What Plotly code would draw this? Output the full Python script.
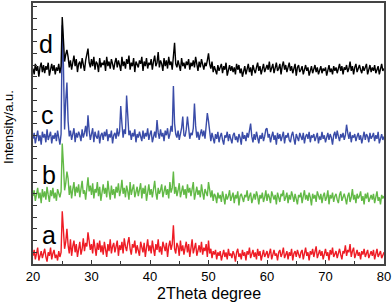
import numpy as np
import plotly.graph_objects as go

# 2-theta scan grid (deg), 0.2 deg step
two_theta = np.round(np.arange(20.0, 80.0001, 0.2), 1)

labels = ["a", "b", "c", "d"]
colors = ["#ee1c25", "#62b946", "#3a4ca8", "#000000"]
offsets = [1, 49, 100, 159]

int_a = [
    6, 11, 3, 8, 13, 2, 7, 10, 4, 9,
    12, 5, 1, 9, 6, 13, 3, 8, 11, 4,
    7, 2, 10, 5, 9, 44, 30, 12, 18, 29,
    15, 8, 20, 6, 14, 19, 9, 16, 5, 13,
    18, 7, 12, 21, 10, 17, 14, 26, 19, 11,
    16, 8, 20, 13, 6, 17, 11, 19, 9, 15,
    7, 18, 12, 5, 16, 10, 20, 8, 14, 17,
    9, 13, 19, 6, 15, 11, 18, 8, 21, 14,
    10, 17, 22, 12, 7, 16, 13, 19, 8, 15,
    11, 6, 18, 14, 9, 17, 5, 13, 20, 10,
    15, 8, 19, 12, 6, 16, 11, 20, 9, 14,
    7, 18, 13, 10, 17, 5, 14, 19, 11, 16,
    32, 12, 8, 17, 14, 6, 19, 10, 15, 7,
    13, 18, 9, 16, 5, 12, 20, 8, 14, 17,
    6, 11, 15, 9, 18, 7, 13, 10, 16, 5,
    19, 8, 12, 4, 10, 7, 11, 3, 9, 6,
    10, 2, 8, 11, 5, 9, 3, 12, 6, 8,
    4, 10, 7, 1, 9, 12, 5, 8, 3, 11,
    6, 9, 2, 10, 7, 13, 4, 8, 11, 5,
    9, 3, 12, 6, 10, 2, 8, 11, 5, 7,
    10, 4, 9, 12, 3, 7, 11, 6, 8, 2,
    9, 11, 5, 8, 13, 4, 7, 10, 3, 9,
    6, 12, 2, 8, 10, 5, 11, 7, 4, 9,
    11, 3, 8, 13, 6, 9, 2, 10, 7, 12,
    5, 9, 14, 4, 8, 11, 6, 10, 3, 8,
    12, 6, 9, 2, 11, 7, 13, 5, 8, 10,
    4, 9, 12, 7, 3, 10, 8, 15, 6, 11,
    9, 16, 5, 10, 13, 4, 8, 11, 6, 9,
    3, 10, 7, 12, 5, 9, 11, 4, 8, 10,
    6, 11, 3, 9, 12, 5, 8, 10, 4, 7,
    9,
]

int_b = [
    9, 14, 5, 11, 16, 7, 12, 3, 15, 8,
    13, 6, 17, 10, 4, 14, 9, 16, 7, 12,
    5, 15, 10, 8, 13, 54, 36, 14, 20, 30,
    24, 10, 18, 7, 15, 21, 9, 17, 12, 19,
    8, 16, 22, 11, 14, 6, 19, 25, 13, 18,
    10, 20, 7, 15, 12, 21, 9, 17, 5, 14,
    19, 11, 16, 8, 22, 13, 6, 18, 10, 15,
    7, 17, 12, 20, 9, 14, 23, 11, 16, 8,
    18, 13, 6, 21, 10, 15, 19, 8, 12, 17,
    9, 14, 20, 7, 16, 11, 18, 5, 13, 19,
    10, 15, 8, 17, 22, 12, 6, 16, 11, 14,
    19, 8, 13, 18, 10, 15, 7, 21, 12, 16,
    30, 11, 17, 9, 14, 20, 8, 13, 18, 10,
    15, 7, 19, 12, 16, 9, 14, 21, 6, 13,
    17, 10, 14, 8, 19, 12, 6, 15, 11, 9,
    21, 13, 8, 14, 5, 11, 9, 3, 12, 7,
    10, 4, 13, 8, 2, 11, 6, 9, 14, 5,
    8, 12, 3, 10, 7, 13, 1, 9, 11, 6,
    4, 10, 8, 14, 5, 9, 12, 3, 7, 11,
    6, 13, 9, 2, 10, 7, 12, 4, 8, 14,
    5, 11, 8, 3, 13, 9, 6, 10, 2, 12,
    7, 4, 11, 9, 14, 5, 8, 12, 3, 10,
    6, 13, 9, 4, 11, 7, 2, 10, 8, 12,
    3, 9, 14, 6, 10, 5, 12, 8, 1, 11,
    7, 10, 4, 13, 8, 6, 11, 3, 9, 12,
    5, 8, 14, 2, 10, 7, 12, 4, 9, 11,
    6, 3, 10, 13, 5, 8, 11, 7, 2, 9,
    12, 4, 8, 15, 6, 10, 3, 11, 7, 9,
    13, 5, 9, 2, 11, 7, 12, 4, 8, 10,
    6, 11, 3, 9, 13, 5, 8, 2, 10, 7,
    9,
]

int_c = [
    7, 12, 3, 9, 14, 5, 10, 2, 13, 8,
    11, 4, 15, 6, 9, 13, 3, 10, 7, 12,
    5, 14, 8, 2, 11, 104, 70, 15, 40, 55,
    22, 9, 14, 6, 11, 16, 4, 12, 8, 13,
    10, 5, 15, 8, 12, 18, 9, 27, 14, 6,
    11, 16, 4, 13, 9, 7, 14, 3, 10, 12,
    6, 13, 9, 15, 5, 11, 8, 14, 3, 10,
    12, 7, 16, 9, 13, 35, 20, 8, 15, 11,
    44, 24, 10, 14, 6, 12, 9, 15, 4, 11,
    8, 13, 10, 5, 14, 7, 12, 9, 16, 6,
    11, 14, 4, 10, 13, 8, 23, 12, 7, 15,
    9, 12, 5, 14, 10, 16, 7, 11, 18, 13,
    52, 20, 11, 8, 14, 6, 12, 16, 26, 10,
    9, 15, 26, 13, 7, 12, 10, 16, 37, 18,
    8, 13, 6, 11, 15, 9, 14, 7, 18, 29,
    22, 10, 5, 12, 8, 3, 11, 7, 13, 4,
    9, 12, 6, 2, 10, 8, 13, 5, 11, 7,
    3, 10, 12, 6, 9, 4, 11, 8, 2, 13,
    7, 10, 5, 12, 8, 14, 20, 9, 4, 11,
    6, 13, 8, 3, 10, 7, 12, 5, 9, 15,
    16, 8, 11, 4, 9, 13, 6, 10, 2, 12,
    7, 11, 5, 9, 13, 3, 10, 8, 12, 6,
    4, 10, 13, 7, 2, 11, 8, 5, 12, 9,
    6, 12, 3, 9, 11, 7, 13, 4, 10, 8,
    11, 5, 8, 12, 3, 9, 6, 13, 7, 10,
    4, 9, 12, 6, 11, 8, 2, 10, 13, 7,
    14, 9, 5, 11, 8, 12, 6, 10, 19, 12,
    7, 13, 4, 10, 8, 11, 5, 9, 12, 6,
    10, 3, 8, 13, 6, 11, 9, 4, 12, 7,
    9, 12, 5, 10, 7, 13, 3, 8, 11, 6,
    9,
]

int_d = [
    8, 3, 12, 6, 10, 1, 9, 13, 5, 11,
    4, 10, 7, 13, 2, 9, 12, 6, 11, 3,
    9, 6, 12, 4, 10, 52, 34, 14, 20, 24,
    18, 9, 15, 7, 13, 19, 10, 16, 5, 12,
    14, 8, 17, 11, 6, 15, 19, 25, 13, 9,
    16, 10, 18, 7, 14, 12, 5, 17, 9, 13,
    11, 15, 6, 18, 10, 14, 8, 16, 12, 7,
    13, 17, 9, 15, 11, 6, 18, 10, 14, 8,
    16, 12, 19, 7, 13, 10, 17, 5, 14, 11,
    9, 15, 12, 18, 6, 14, 10, 17, 8, 13,
    11, 16, 7, 14, 19, 10, 13, 22, 9, 15,
    12, 6, 17, 10, 15, 8, 18, 11, 14, 7,
    16, 30, 12, 9, 15, 11, 6, 17, 10, 13,
    8, 14, 11, 16, 7, 13, 10, 15, 9, 18,
    12, 6, 14, 9, 16, 11, 7, 13, 10, 15,
    21, 12, 8, 14, 5, 10, 7, 3, 11, 6,
    9, 12, 4, 10, 7, 13, 2, 8, 11, 6,
    10, 5, 9, 3, 12, 7, 11, 4, 8, 1,
    6, 10, 3, 8, 12, 5, 9, 2, 11, 7,
    4, 9, 13, 6, 10, 3, 8, 12, 5, 9,
    11, 7, 14, 5, 9, 12, 4, 10, 13, 6,
    8, 12, 3, 10, 14, 7, 11, 5, 9, 13,
    6, 10, 4, 8, 12, 2, 9, 11, 5, 7,
    10, 3, 8, 11, 6, 9, 2, 7, 10, 4,
    8, 11, 5, 9, 3, 7, 10, 4, 8, 6,
    9, 2, 7, 11, 5, 8, 3, 10, 6, 9,
    4, 8, 12, 6, 10, 3, 9, 7, 11, 5,
    8, 14, 6, 10, 3, 9, 12, 5, 8, 11,
    7, 4, 10, 6, 9, 12, 3, 8, 11, 5,
    9, 6, 11, 4, 8, 10, 3, 7, 12, 6,
    8,
]

series = [int_a, int_b, int_c, int_d]
label_x = [22.7, 22.7, 22.5, 22.3]
label_y = [25, 76, 127, 188]

FONT = "Liberation Sans, Arial, sans-serif"

fig = go.Figure()
for name, vals, off, col in zip(labels, series, offsets, colors):
    n = min(len(vals), len(two_theta))
    fig.add_trace(go.Scatter(
        x=two_theta[:n], y=np.array(vals[:n]) + off, mode="lines",
        line=dict(color=col, width=1.4), name=name, showlegend=False,
    ))

for name, lx, ly in zip(labels, label_x, label_y):
    fig.add_annotation(x=lx, y=ly, text=name, showarrow=False,
                       font=dict(size=25, color="black", family=FONT))

# axis titles
fig.add_annotation(xref="paper", yref="paper", x=0.5, y=-0.072, yanchor="top",
                   text="2Theta degree", showarrow=False,
                   font=dict(size=16, color="black", family=FONT))
fig.add_annotation(xref="paper", yref="paper", x=-0.07, y=0.527, textangle=-90,
                   xanchor="center", yanchor="middle",
                   text="Intensity/a.u.", showarrow=False,
                   font=dict(size=13, color="black", family=FONT))

fig.update_layout(
    width=392, height=306,
    margin=dict(l=33, r=8, t=3, b=42, autoexpand=False),
    paper_bgcolor="white", plot_bgcolor="white",
    font=dict(family=FONT, color="black"),
    xaxis=dict(
        range=[20, 80], tickvals=[20, 30, 40, 50, 60, 70, 80],
        ticks="inside", ticklen=4, tickwidth=1.2, tickcolor="#333",
        minor=dict(tickvals=[25, 35, 45, 55, 65, 75], ticks="inside", ticklen=3, tickcolor="#333"),
        showline=True, linecolor="#444", linewidth=1.5, mirror=True,
        showgrid=False, zeroline=False, automargin=False,
        tickfont=dict(size=13),
    ),
    yaxis=dict(
        range=[0, 223], tickvals=list(range(0, 230, 10)),
        showticklabels=False,
        ticks="inside", ticklen=4, tickwidth=1.2, tickcolor="#333",
        showline=True, linecolor="#444", linewidth=1.5, mirror=True,
        showgrid=False, zeroline=False, automargin=False,
    ),
)

fig.write_html("out.html", config={"displayModeBar": False},
               post_script="document.body.style.margin='0';")
